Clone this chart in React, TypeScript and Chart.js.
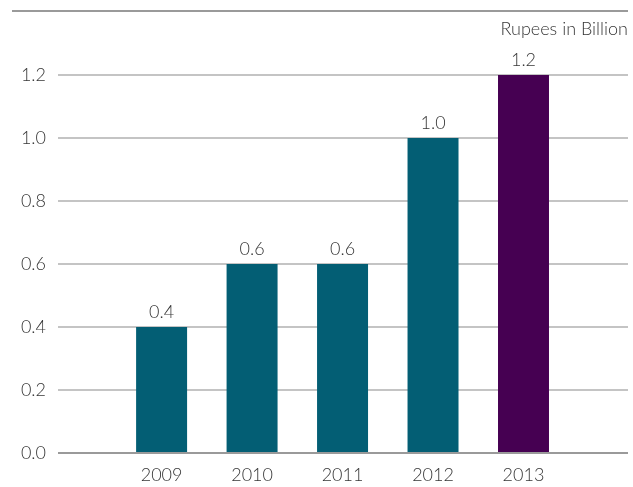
import React, { useEffect, useRef } from "react";
import { Chart, registerables } from "chart.js";

Chart.register(...registerables);

const years = [2009, 2010, 2011, 2012, 2013];
const values = [0.4, 0.6, 0.6, 1.0, 1.2];
const barColors = ["#035e74", "#035e74", "#035e74", "#035e74", "#460052"];
const yTicks = [0, 0.2, 0.4, 0.6, 0.8, 1.0, 1.2];
const unitLabel = "Rupees in Billion";

const FONT = "Lato, 'Open Sans', sans-serif";
const TEXT = "#363636";
const SIZE = 18;

export default function App() {
  const ref = useRef<HTMLCanvasElement | null>(null);

  useEffect(() => {
    if (!ref.current) return;
    const decor = {
      id: "decor",
      afterDraw(chart: any) {
        const ctx = chart.ctx;
        const area = chart.chartArea;
        ctx.save();
        // top rule
        ctx.strokeStyle = "#9a9a9a";
        ctx.lineWidth = 2;
        ctx.beginPath();
        ctx.moveTo(12, 11);
        ctx.lineTo(area.right, 11);
        ctx.stroke();
        // unit label
        ctx.fillStyle = TEXT;
        ctx.font = `300 ${SIZE}px ${FONT}`;
        ctx.textAlign = "right";
        ctx.textBaseline = "middle";
        ctx.fillText(unitLabel, area.right, 29);
        // data labels
        const meta = chart.getDatasetMeta(0);
        ctx.textAlign = "center";
        ctx.textBaseline = "bottom";
        meta.data.forEach((bar: any, i: number) => {
          ctx.fillText(values[i].toFixed(1), bar.x, bar.y - 6);
        });
        ctx.restore();
      },
    };

    const chart = new Chart(ref.current, {
      type: "bar",
      data: {
        datasets: [
          {
            data: years.map((y, i) => ({ x: y, y: values[i] })) as any,
            backgroundColor: barColors,
            borderWidth: 0,
            barPercentage: 0.5635,
            categoryPercentage: 1,
          },
        ],
      },
      options: {
        animation: false,
        responsive: true,
        maintainAspectRatio: false,
        layout: { padding: { top: 75, right: 5, left: 0, bottom: 0 } },
        plugins: { legend: { display: false }, title: { display: false }, tooltip: { enabled: false } },
        scales: {
          x: {
            type: "linear",
            min: 2007.855,
            max: 2014.155,
            offset: false,
            grid: { display: false, drawTicks: false },
            border: { display: false },
            afterBuildTicks: (scale: any) => {
              scale.ticks = years.map((v) => ({ value: v }));
            },
            afterFit: (scale: any) => {
              scale.height = 34;
            },
            ticks: {
              autoSkip: false,
              maxRotation: 0,
              padding: 11,
              color: TEXT,
              font: { family: FONT, size: SIZE, weight: "300" as any },
              callback: (v: any) => String(v),
            },
          },
          y: {
            min: 0,
            max: 1.2,
            afterBuildTicks: (scale: any) => {
              scale.ticks = yTicks.map((v) => ({ value: v }));
            },
            afterFit: (scale: any) => {
              scale.width = 58;
            },
            grid: {
              drawTicks: false,
              lineWidth: 2,
              color: (c: any) => (c.tick && c.tick.value === 0 ? "#9a9a9a" : "#c4c4c4"),
            },
            border: { display: false },
            ticks: {
              padding: 12,
              color: TEXT,
              font: { family: FONT, size: SIZE, weight: "300" as any },
              callback: (v: any) => Number(v).toFixed(1),
            },
          },
        },
      },
      plugins: [decor],
    });
    return () => chart.destroy();
  }, []);

  return (
    <div style={{ position: "fixed", left: 0, top: 0, width: 633, height: 487, background: "#fff" }}>
      <canvas ref={ref} />
    </div>
  );
}
